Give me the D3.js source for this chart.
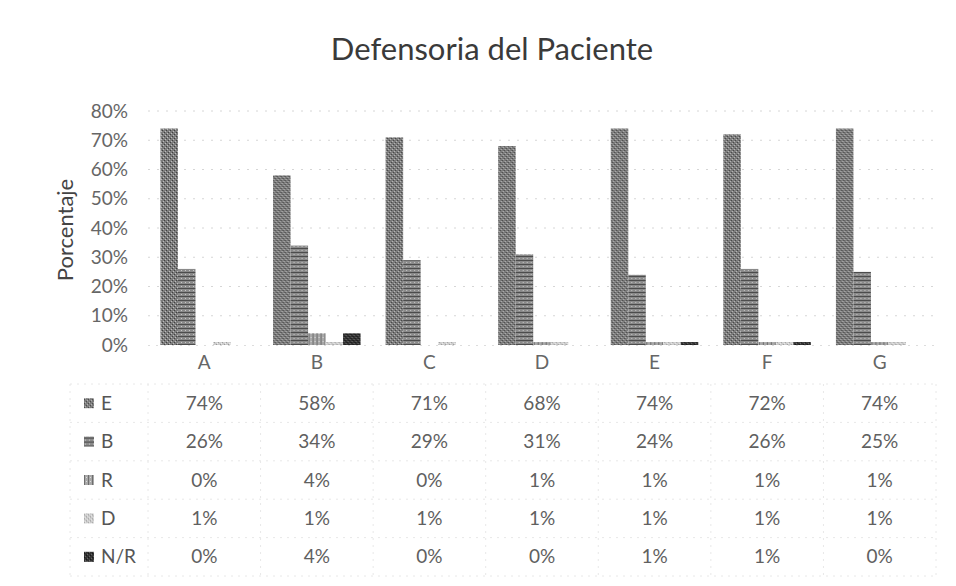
<!DOCTYPE html>
<html><head><meta charset="utf-8">
<script src="https://d3js.org/d3.v7.min.js"></script>
<style>body{margin:0;background:#fff}svg{display:block}</style>
</head><body>
<script>
const categories = ["A","B","C","D","E","F","G"];
const seriesNames = ["E","B","R","D","N/R"];
const valuesE  = [74,58,71,68,74,72,74];
const valuesB  = [26,34,29,31,24,26,25];
const valuesR  = [0,4,0,1,1,1,1];
const valuesD  = [1,1,1,1,1,1,1];
const valuesNR = [0,4,0,0,1,1,0];
const yTicks = [0,10,20,30,40,50,60,70,80];
const title = "Defensoria del Paciente";
const yTitle = "Porcentaje";

const seriesValues = [valuesE, valuesB, valuesR, valuesD, valuesNR];

const W = 956, H = 586;
const svg = d3.select("body").append("svg").attr("width", W).attr("height", H);
const font = "Lato, 'Open Sans', sans-serif";

// patterns imitating scanned textures
const defs = svg.append("defs");
const pats = [
  {id:"pE", base:"#7c7c7c", dot:"#404040", light:"#bdbdbd"},
  {id:"pB", base:"#8a8a8a", dot:"#4c4c4c", light:"#c8c8c8"},
  {id:"pR", base:"#a8a8a8", dot:"#6e6e6e", light:"#dcdcdc"},
  {id:"pD", base:"#cccccc", dot:"#999999", light:"#eeeeee"},
  {id:"pN", base:"#333333", dot:"#111111", light:"#707070"}
];
pats.forEach((p,i) => {
  const pat = defs.append("pattern").attr("id", p.id).attr("patternUnits","userSpaceOnUse")
    .attr("width", 4).attr("height", 4);
  pat.append("rect").attr("width",4).attr("height",4).attr("fill",p.base);
  if (i === 1) {
    pat.append("rect").attr("x",0).attr("y",0).attr("width",4).attr("height",1).attr("fill",p.dot);
    pat.append("rect").attr("x",1).attr("y",2).attr("width",1).attr("height",1).attr("fill",p.light);
  } else if (i === 2) {
    pat.append("rect").attr("x",0).attr("y",0).attr("width",1).attr("height",4).attr("fill",p.dot);
    pat.append("rect").attr("x",2).attr("y",1).attr("width",1).attr("height",1).attr("fill",p.light);
  } else {
    pat.append("rect").attr("x",0).attr("y",0).attr("width",1).attr("height",1).attr("fill",p.dot);
    pat.append("rect").attr("x",2).attr("y",2).attr("width",1).attr("height",1).attr("fill",p.dot);
    pat.append("rect").attr("x",1).attr("y",3).attr("width",1).attr("height",1).attr("fill",p.light);
    pat.append("rect").attr("x",3).attr("y",1).attr("width",1).attr("height",1).attr("fill",p.light);
  }
});
const fills = pats.map(p => `url(#${p.id})`);

const x0 = d3.scaleBand().domain(categories).range([148, 936]).padding(0);
const bw = x0.bandwidth();
const x1 = d3.scaleBand().domain(seriesNames).range([bw*0.111, bw*0.111 + 5*17.5]).padding(0);
const y = d3.scaleLinear().domain([0, 80]).range([345, 111]);

// title
svg.append("text").attr("x", 492).attr("y", 60).attr("text-anchor","middle")
  .attr("font-family", font).attr("font-size", 31).attr("fill","#3a3a3a").text(title);

// gridlines
svg.append("g").selectAll("line").data(yTicks.filter(t=>t>0)).join("line")
  .attr("x1", 148).attr("x2", 936).attr("y1", d=>y(d)).attr("y2", d=>y(d))
  .attr("stroke","#d6d6d6").attr("stroke-width",1).attr("stroke-dasharray","2,7");

// y axis
const yAxis = d3.axisLeft(y).tickValues(yTicks).tickFormat(d => d + "%").tickSize(0).tickPadding(0);
const gy = svg.append("g").attr("transform","translate(128,0)").call(yAxis);
gy.select(".domain").remove();
gy.selectAll("text").attr("font-family", font).attr("font-size", 19).attr("fill","#666");

svg.append("text").attr("transform","translate(73,230) rotate(-90)").attr("text-anchor","middle")
  .attr("font-family", font).attr("font-size", 22).attr("fill","#444").text(yTitle);

// bars
const groups = svg.append("g").selectAll("g").data(categories).join("g")
  .attr("transform", d => `translate(${x0(d)},0)`);
groups.selectAll("rect").data((c,ci) => seriesNames.map((s,si) => ({s, si, v: seriesValues[si][ci]})))
  .join("rect")
  .attr("x", d => x1(d.s)).attr("width", x1.bandwidth())
  .attr("y", d => y(d.v)).attr("height", d => y(0) - y(d.v))
  .attr("fill", d => fills[d.si]);

// baseline
svg.append("line").attr("x1",148).attr("x2",936).attr("y1",y(0)+0.5).attr("y2",y(0)+0.5)
  .attr("stroke","#dddddd").attr("stroke-dasharray","2,6");

// category axis labels
const xAxis = d3.axisBottom(x0).tickSize(0).tickPadding(0);
const gx = svg.append("g").attr("transform", "translate(0,355)").call(xAxis);
gx.select(".domain").remove();
gx.selectAll("text").attr("font-family", font).attr("font-size", 19).attr("fill","#666").attr("dy","0.71em");

// data table
const rowY = d3.scaleBand().domain(seriesNames).range([384, 576]).padding(0);
const tableLines = svg.append("g").attr("stroke","#e8e8e8").attr("stroke-dasharray","2,5");
rowY.domain().forEach(s => {
  tableLines.append("line").attr("x1",70).attr("x2",936).attr("y1",rowY(s)).attr("y2",rowY(s));
});
tableLines.append("line").attr("x1",70).attr("x2",936).attr("y1",576).attr("y2",576);
categories.forEach(c => {
  tableLines.append("line").attr("x1",x0(c)).attr("x2",x0(c)).attr("y1",384).attr("y2",576);
});
tableLines.append("line").attr("x1",936).attr("x2",936).attr("y1",384).attr("y2",576);
tableLines.append("line").attr("x1",70).attr("x2",70).attr("y1",384).attr("y2",576);

const rows = svg.append("g").selectAll("g").data(seriesNames).join("g")
  .attr("transform", s => `translate(0,${rowY(s) + rowY.bandwidth()/2})`);
rows.append("rect").attr("x", 84).attr("y", -5).attr("width", 10).attr("height", 10)
  .attr("fill", (s,i) => fills[i]);
rows.append("text").attr("x", 101).attr("dy","0.35em")
  .attr("font-family", font).attr("font-size", 19).attr("fill","#555").text(s => s);
rows.selectAll("text.v").data((s,si) => categories.map((c,ci) => ({c, v: seriesValues[si][ci]})))
  .join("text").attr("class","v")
  .attr("x", d => x0(d.c) + bw/2).attr("dy","0.35em").attr("text-anchor","middle")
  .attr("font-family", font).attr("font-size", 19).attr("fill","#606060").text(d => d.v + "%");
</script>
</body></html>
